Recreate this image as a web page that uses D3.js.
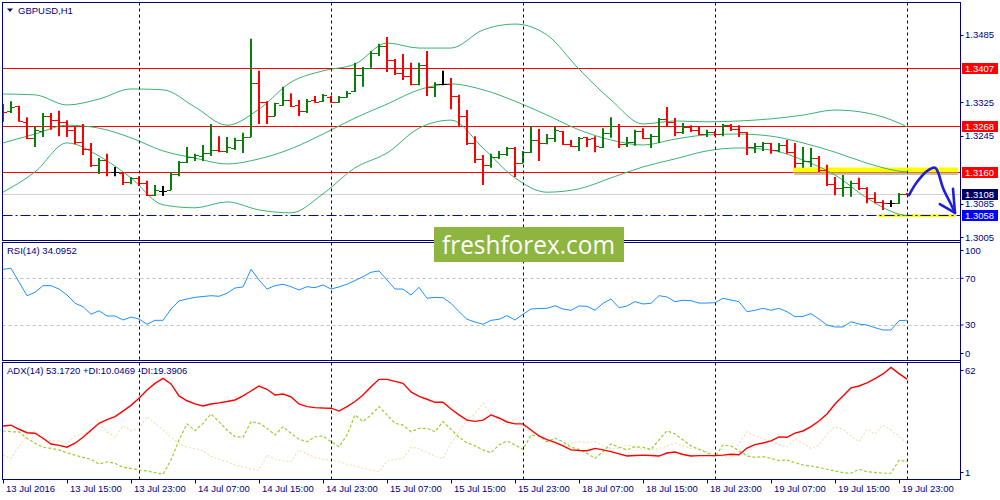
<!DOCTYPE html>
<meta charset="utf-8">
<style>
body { margin: 0; background: #fff; }
text { font-family: "Liberation Sans", Arial, sans-serif; font-size: 9.5px; fill: #000080; }
.box text { fill: #fff; }
</style>
<svg width="1000" height="500"></svg>
<script src="https://d3js.org/d3.v7.min.js"></script>
<script>

// hourly bars, 13 Jul 2016 07:00 .. 20 Jul 00:00
var open = [1.3319,1.3305,1.3317,1.3279,1.3241,1.3257,1.3293,1.3283,1.3279,1.3260,
  1.3231,1.3215,1.3177,1.3188,1.3160,1.3158,1.3136,1.3146,1.3134,1.3105,
  1.3115,1.3117,1.3155,1.3184,1.3196,1.3198,1.3205,1.3212,1.3210,1.3217,
  1.3236,1.3243,1.3371,1.3326,1.3293,1.3319,1.3331,1.3319,1.3305,1.3331,
  1.3328,1.3338,1.3326,1.3338,1.3352,1.3390,1.3407,1.3442,1.3459,1.3426,
  1.3395,1.3388,1.3369,1.3414,1.3362,1.3369,1.3369,1.3340,1.3293,1.3229,
  1.3191,1.3177,1.3196,1.3203,1.3217,1.3181,1.3207,1.3236,1.3229,1.3241,
  1.3257,1.3226,1.3222,1.3243,1.3241,1.3219,1.3253,1.3269,1.3226,1.3231,
  1.3257,1.3241,1.3245,1.3286,1.3279,1.3255,1.3267,1.3260,1.3250,1.3255,
  1.3250,1.3271,1.3262,1.3255,1.3219,1.3222,1.3229,1.3212,1.3224,1.3207,
  1.3181,1.3186,1.3193,1.3165,1.3131,1.3122,1.3124,1.3134,1.3122,1.3098,
  1.3089,1.3086,1.3086,1.3108];
var high = [1.3321,1.3328,1.3317,1.3290,1.3267,1.3300,1.3300,1.3305,1.3283,1.3267,
  1.3274,1.3229,1.3193,1.3203,1.3172,1.3160,1.3148,1.3150,1.3139,1.3129,
  1.3127,1.3160,1.3186,1.3219,1.3203,1.3224,1.3274,1.3245,1.3243,1.3241,
  1.3253,1.3476,1.3400,1.3328,1.3324,1.3362,1.3347,1.3331,1.3333,1.3340,
  1.3345,1.3340,1.3340,1.3352,1.3419,1.3409,1.3447,1.3464,1.3480,1.3428,
  1.3440,1.3419,1.3419,1.3447,1.3373,1.3400,1.3383,1.3343,1.3307,1.3245,
  1.3200,1.3203,1.3210,1.3219,1.3219,1.3210,1.3269,1.3262,1.3250,1.3267,
  1.3257,1.3236,1.3243,1.3243,1.3245,1.3264,1.3290,1.3274,1.3243,1.3260,
  1.3264,1.3250,1.3288,1.3314,1.3288,1.3276,1.3271,1.3267,1.3260,1.3257,
  1.3274,1.3274,1.3271,1.3255,1.3229,1.3231,1.3229,1.3229,1.3236,1.3229,
  1.3219,1.3217,1.3198,1.3177,1.3148,1.3153,1.3139,1.3146,1.3124,1.3112,
  1.3093,1.3093,1.3110,1.3110];
var low = [1.3279,1.3300,1.3279,1.3238,1.3219,1.3243,1.3260,1.3245,1.3243,1.3226,
  1.3200,1.3172,1.3155,1.3150,1.3150,1.3129,1.3131,1.3127,1.3103,1.3103,
  1.3103,1.3117,1.3150,1.3181,1.3186,1.3186,1.3198,1.3207,1.3205,1.3212,
  1.3205,1.3243,1.3274,1.3274,1.3293,1.3317,1.3314,1.3293,1.3300,1.3324,
  1.3326,1.3324,1.3324,1.3336,1.3350,1.3362,1.3407,1.3435,1.3397,1.3390,
  1.3378,1.3366,1.3366,1.3340,1.3338,1.3366,1.3309,1.3267,1.3224,1.3181,
  1.3129,1.3170,1.3191,1.3198,1.3148,1.3181,1.3205,1.3186,1.3226,1.3231,
  1.3224,1.3219,1.3210,1.3219,1.3207,1.3217,1.3241,1.3217,1.3219,1.3222,
  1.3238,1.3217,1.3229,1.3269,1.3245,1.3250,1.3255,1.3248,1.3243,1.3245,
  1.3245,1.3257,1.3243,1.3200,1.3205,1.3210,1.3203,1.3207,1.3203,1.3170,
  1.3170,1.3172,1.3160,1.3127,1.3105,1.3101,1.3101,1.3117,1.3086,1.3086,
  1.3070,1.3077,1.3084,1.3105];
var close = [1.3302,1.3314,1.3281,1.3241,1.3260,1.3293,1.3283,1.3279,1.3260,1.3231,
  1.3215,1.3177,1.3188,1.3160,1.3160,1.3136,1.3146,1.3134,1.3105,1.3117,
  1.3115,1.3155,1.3184,1.3196,1.3200,1.3205,1.3212,1.3210,1.3219,1.3236,
  1.3243,1.3371,1.3326,1.3293,1.3324,1.3331,1.3317,1.3305,1.3328,1.3326,
  1.3343,1.3326,1.3338,1.3347,1.3390,1.3407,1.3442,1.3459,1.3426,1.3395,
  1.3388,1.3369,1.3414,1.3362,1.3369,1.3369,1.3340,1.3293,1.3229,1.3191,
  1.3177,1.3196,1.3203,1.3217,1.3181,1.3207,1.3236,1.3229,1.3241,1.3260,
  1.3226,1.3222,1.3241,1.3238,1.3222,1.3253,1.3269,1.3226,1.3231,1.3257,
  1.3241,1.3245,1.3286,1.3279,1.3255,1.3267,1.3260,1.3250,1.3255,1.3250,
  1.3271,1.3262,1.3255,1.3219,1.3222,1.3229,1.3212,1.3224,1.3207,1.3181,
  1.3186,1.3193,1.3165,1.3131,1.3122,1.3124,1.3134,1.3122,1.3098,1.3089,
  1.3086,1.3086,1.3108,1.3107];

// Bollinger bands, read every 4th bar
var bbBars = [0,4,8,12,16,20,24,28,32,36,40,44,48,52,56,60,64,68,72,76,80,84,88,92,96,100,104,108,112,113];
var bbUpper = [1.3345,1.3343,1.3319,1.3333,1.3357,1.3355,1.3314,1.3271,1.3309,1.3373,1.3400,1.3416,1.3466,1.3454,1.3454,
  1.3497,1.3511,1.3485,1.3404,1.3331,1.3274,1.3281,1.3279,1.3281,1.3286,1.3295,1.3307,1.3300,1.3276,1.3267];
var bbMiddle = [1.3229,1.3250,1.3271,1.3264,1.3241,1.3210,1.3193,1.3179,1.3191,1.3215,1.3250,1.3288,1.3321,1.3355,1.3369,
  1.3355,1.3328,1.3295,1.3260,1.3236,1.3224,1.3238,1.3248,1.3250,1.3245,1.3229,1.3207,1.3181,1.3162,1.3160];
var bbLower = [1.3112,1.3160,1.3229,1.3198,1.3146,1.3082,1.3075,1.3089,1.3070,1.3063,1.3108,1.3170,1.3205,1.3264,1.3283,
  1.3217,1.3146,1.3112,1.3120,1.3146,1.3172,1.3191,1.3210,1.3217,1.3212,1.3188,1.3153,1.3098,1.3060,1.3056];

var rsi = [77.7,78.6,66.8,55.1,58.0,63.7,63.7,60.8,55.7,48.6,45.7,39.2,42.2,37.7,37.7,34.3,36.8,35.1,30.6,34.0,
  34.0,43.7,50.6,52.3,53.7,54.4,55.1,54.6,57.2,61.7,62.6,77.7,68.6,60.8,63.7,64.9,62.8,60.0,62.8,62.0,
  64.3,60.8,62.6,64.9,68.1,71.4,75.2,76.3,68.6,60.8,60.8,55.7,62.3,52.9,53.7,53.4,48.6,41.4,34.9,32.6,
  30.6,34.0,34.9,38.0,34.3,39.2,43.7,44.1,44.3,46.5,43.7,42.6,46.3,46.0,42.6,48.6,52.3,44.8,46.3,50.0,
  48.0,48.6,55.1,54.0,50.0,51.2,50.8,48.8,48.8,49.1,52.9,51.4,50.0,41.4,42.6,44.3,42.6,44.3,41.4,37.1,
  37.4,39.7,35.1,30.0,28.3,28.3,32.8,30.8,30.0,27.7,25.7,25.7,33.7,34.0952];

var adx = [28.7,29.1,27.0,25.2,24.9,22.3,19.3,18.6,17.6,19.7,22.8,26.5,30.1,32.0,33.6,36.5,39.5,43.2,47.5,51.0,
  53.6,50.7,44.4,41.9,40.3,39.2,40.2,40.8,41.5,42.3,44.5,47.0,49.6,47.9,44.9,45.4,43.9,40.2,38.8,38.3,
  38.1,38.0,36.5,38.8,41.5,44.9,49.2,53.1,53.1,52.0,51.0,46.5,44.2,42.7,41.1,41.1,37.6,34.5,31.8,31.1,
  31.8,34.5,32.9,30.8,29.8,29.8,26.6,23.5,21.6,20.1,18.3,16.2,15.9,15.8,17.0,16.2,15.3,14.1,13.0,13.3,
  13.5,13.3,13.0,14.6,15.1,13.8,13.0,13.2,13.2,13.2,13.5,13.9,13.7,17.2,19.0,19.8,20.9,23.0,22.8,25.0,
  26.1,28.4,31.3,35.0,40.2,44.4,48.6,49.6,51.2,53.5,55.9,59.3,56.1,53.172];
var plusDI = [26.1,25.7,25.6,22.3,19.7,17.6,17.0,16.2,14.7,13.5,12.3,11.3,8.8,10.0,9.2,7.1,6.6,5.7,5.2,4.3,
  3.5,10.9,21.4,29.8,26.2,30.1,35.0,31.0,26.6,23.1,22.8,31.0,30.1,27.5,24.0,28.3,24.9,21.8,20.5,23.1,
  23.5,20.5,17.9,24.0,34.5,31.0,34.5,38.8,34.5,30.1,29.2,25.7,27.5,27.5,25.7,31.0,27.0,22.8,20.0,18.3,
  16.2,14.7,18.8,20.9,18.8,16.5,24.0,23.5,20.5,22.3,20.5,17.6,16.5,14.4,11.8,15.3,19.3,17.6,16.2,17.9,
  17.6,16.5,21.4,26.2,24.5,21.4,18.3,16.5,14.7,12.7,18.8,18.3,15.8,13.0,12.3,12.7,11.8,10.6,10.9,9.5,
  8.3,7.8,7.1,6.1,5.2,4.3,4.0,6.1,4.8,4.5,4.0,4.0,10.9,10.0469];
var minusDI = [13.5,11.8,17.9,24.0,26.2,21.4,21.0,20.9,19.7,23.5,24.5,26.2,29.8,25.7,22.8,28.7,26.2,27.5,33.6,30.1,
  26.6,22.8,19.7,17.6,16.8,15.8,12.7,11.3,10.0,8.3,7.4,6.1,5.7,13.5,11.3,10.6,10.0,16.2,14.1,12.3,
  11.3,10.9,10.0,8.7,7.8,6.6,5.7,4.8,10.4,11.3,11.8,17.6,17.0,14.7,13.0,11.8,19.7,25.7,31.8,35.2,
  40.6,35.0,31.8,29.2,32.7,28.7,25.7,24.0,21.0,19.3,18.3,19.7,20.5,20.0,20.5,18.3,17.0,17.0,18.8,17.6,
  16.5,16.2,17.0,18.3,19.7,18.3,17.0,16.5,15.3,14.1,12.7,11.8,19.7,25.7,23.5,21.8,21.0,18.8,17.9,21.8,
  19.7,17.0,18.8,24.5,28.3,27.0,23.5,20.5,27.0,24.5,29.2,26.6,23.5,19.3906];

var tickBars = [0,8,16,24,32,40,48,56,64,72,80,88,96,104,112];
var tickLabels = ["13 Jul 2016","13 Jul 15:00","13 Jul 23:00","14 Jul 07:00","14 Jul 15:00","14 Jul 23:00",
  "15 Jul 07:00","15 Jul 15:00","15 Jul 23:00","18 Jul 07:00","18 Jul 15:00","18 Jul 23:00",
  "19 Jul 07:00","19 Jul 15:00","19 Jul 23:00"];
var dayBars = [17, 41, 65, 89, 113];

var priceTicks = [1.3485, 1.3325, 1.3245, 1.3085, 1.3005];
var redLevels = [1.3407, 1.3268, 1.3160];
var bid = 1.3108, support = 1.3058;
var rsiTicks = [100, 70, 30, 0], rsiLevels = [70, 30];
var adxTicks = [62, 1];

// hand-drawn forecast: [bar, price]
var arrowPath = [[113.25,1.3105],[114.25,1.3136],[115.5,1.3162],[116.5,1.3170],[116.9,1.3158],[117.5,1.3122],[118.4,1.3087],[119,1.3063]];
var arrowHead = [[117.1,1.3084],[119,1.3063],[118.75,1.3120]];

var svg = d3.select("svg");
var navy = "#000080";
var L = 2.5, R = 960.5;
var mainY = [2.5, 240.5], rsiY = [242.5, 360.5], adxY = [362.5, 479.5];

var x = d3.scaleLinear().domain([0, 119.625]).range([3, 960]);
var yP = d3.scaleLinear().domain([1.3005, 1.3485]).range([237.3, 35]);
var yR = d3.scaleLinear().domain([0, 100]).range([360, 243.3]);
var yA = d3.scaleLinear().domain([1, 62]).range([479, 362.3]);

svg.append("rect").attr("width", 1000).attr("height", 500).attr("fill", "#fff");

var defs = svg.append("defs");
[["cMain", mainY], ["cRsi", rsiY], ["cAdx", adxY]].forEach(function(c) {
  defs.append("clipPath").attr("id", c[0]).append("rect")
      .attr("x", L).attr("y", c[1][0]).attr("width", R - L).attr("height", c[1][1] - c[1][0]);
});

var gMain = svg.append("g").attr("clip-path", "url(#cMain)");
var gRsi = svg.append("g").attr("clip-path", "url(#cRsi)");
var gAdx = svg.append("g").attr("clip-path", "url(#cAdx)");

// day separators
svg.append("g").selectAll("line").data(dayBars).enter().append("line")
    .attr("x1", function(d) { return Math.round(x(d)) + 0.5; })
    .attr("x2", function(d) { return Math.round(x(d)) + 0.5; })
    .attr("y1", mainY[0]).attr("y2", adxY[1])
    .attr("stroke", navy).attr("stroke-dasharray", "3,3");

// main panel levels
gMain.append("line").attr("x1", L).attr("x2", R)
    .attr("y1", Math.round(yP(bid)) + 0.5).attr("y2", Math.round(yP(bid)) + 0.5)
    .attr("stroke", "#d0d0d0");

gMain.selectAll(".lvl").data(redLevels).enter().append("line")
    .attr("x1", L).attr("x2", R)
    .attr("y1", function(d) { return Math.round(yP(d)) + 0.5; })
    .attr("y2", function(d) { return Math.round(yP(d)) + 0.5; })
    .attr("stroke", "#ff0000").attr("stroke-width", 1.2);

// yellow highlights
gMain.append("rect").attr("x", x(98.75)).attr("width", x(119.4) - x(98.75))
    .attr("y", yP(support) - 42 + 0).attr("height", 0).attr("fill", "none");
gMain.append("rect").attr("x", x(98.9)).attr("width", x(119.4) - x(98.9))
    .attr("y", yP(1.3160) + 0.5).attr("height", 2.5).attr("fill", "#000").attr("opacity", 0.25);
gMain.append("rect").attr("x", x(98.75)).attr("width", x(119.4) - x(98.75))
    .attr("y", yP(1.3160) - 4.5).attr("height", 5).attr("fill", "#ffff00");
gMain.append("rect").attr("x", x(109.4)).attr("width", x(119.1) - x(109.4))
    .attr("y", yP(support) - 1).attr("height", 3).attr("fill", "#ffff00");

gMain.append("line").attr("x1", L).attr("x2", R)
    .attr("y1", Math.round(yP(support)) + 0.5).attr("y2", Math.round(yP(support)) + 0.5)
    .attr("stroke", "#0000dd").attr("stroke-width", 1.2).attr("stroke-dasharray", "10,3,2,3");

// bollinger bands
var bbLine = d3.line()
    .x(function(d) { return x(d[0]); })
    .y(function(d) { return yP(d[1]); })
    .curve(d3.curveMonotoneX);
[bbUpper, bbMiddle, bbLower].forEach(function(s) {
  gMain.append("path")
      .datum(bbBars.map(function(b, i) { return [b, s[i]]; }))
      .attr("d", bbLine).attr("fill", "none")
      .attr("stroke", "#3cb371").attr("stroke-width", 1);
});

// OHLC bars
var bars = open.map(function(o, i) { return { i: i, o: o, h: high[i], l: low[i], c: close[i] }; });
function barColor(d) { return d.c > d.o ? "#0a7d0a" : d.c < d.o ? "#ff0000" : "#000000"; }
var bar = gMain.selectAll(".bar").data(bars).enter().append("g")
    .attr("stroke", barColor);
bar.append("line")
    .attr("x1", function(d) { return Math.round(x(d.i)); })
    .attr("x2", function(d) { return Math.round(x(d.i)); })
    .attr("y1", function(d) { return yP(d.h); })
    .attr("y2", function(d) { return yP(d.l); })
    .attr("stroke-width", 2);
bar.append("line")
    .attr("x1", function(d) { return Math.round(x(d.i)) - 4; })
    .attr("x2", function(d) { return Math.round(x(d.i)); })
    .attr("y1", function(d) { return Math.round(yP(d.o)) + 0.5; })
    .attr("y2", function(d) { return Math.round(yP(d.o)) + 0.5; });
bar.append("line")
    .attr("x1", function(d) { return Math.round(x(d.i)); })
    .attr("x2", function(d) { return Math.round(x(d.i)) + 4; })
    .attr("y1", function(d) { return Math.round(yP(d.c)) + 0.5; })
    .attr("y2", function(d) { return Math.round(yP(d.c)) + 0.5; });

// forecast arrow
var pl = d3.line().x(function(d) { return x(d[0]); }).y(function(d) { return yP(d[1]); });
svg.append("path").datum(arrowPath)
    .attr("d", pl.curve(d3.curveCatmullRom)).attr("fill", "none")
    .attr("stroke", "#1f1fd8").attr("stroke-width", 2.6).attr("stroke-linecap", "round");
svg.append("path").datum(arrowHead)
    .attr("d", d3.line().x(function(d) { return x(d[0]); }).y(function(d) { return yP(d[1]); }))
    .attr("fill", "none").attr("stroke", "#1f1fd8").attr("stroke-width", 2.6)
    .attr("stroke-linecap", "round").attr("stroke-linejoin", "round");

// RSI
gRsi.selectAll(".lvl").data(rsiLevels).enter().append("line")
    .attr("x1", L).attr("x2", R)
    .attr("y1", function(d) { return Math.round(yR(d)) + 0.5; })
    .attr("y2", function(d) { return Math.round(yR(d)) + 0.5; })
    .attr("stroke", "#c0c0c0").attr("stroke-dasharray", "3,3");
gRsi.append("path").datum(rsi)
    .attr("d", d3.line().x(function(d, i) { return x(i); }).y(function(d) { return yR(d); }))
    .attr("fill", "none").attr("stroke", "#1e90ff").attr("stroke-width", 1);

// ADX
function adxLine(s, color, dash, w) {
  gAdx.append("path").datum(s)
      .attr("d", d3.line().x(function(d, i) { return x(i); }).y(function(d) { return yA(d); }))
      .attr("fill", "none").attr("stroke", color).attr("stroke-width", w)
      .attr("stroke-dasharray", dash);
}
adxLine(minusDI, "#f5deb3", "2,2", 1.2);
adxLine(plusDI, "#9acd32", "3,2", 1.2);
adxLine(adx, "#ff0000", null, 1.4);

// panel frames
[mainY, rsiY, adxY].forEach(function(p) {
  svg.append("rect").attr("x", L).attr("y", p[0]).attr("width", R - L).attr("height", p[1] - p[0])
      .attr("fill", "none").attr("stroke", navy);
});

// right axis
var axisR = svg.append("g");
axisR.selectAll(".pt").data(priceTicks).enter().append("text")
    .attr("x", 965).attr("y", function(d) { return yP(d); }).attr("dy", "0.35em")
    .text(function(d) { return d.toFixed(4); });
axisR.selectAll(".ptk").data(priceTicks).enter().append("line")
    .attr("x1", R).attr("x2", R + 3)
    .attr("y1", function(d) { return Math.round(yP(d)) + 0.5; })
    .attr("y2", function(d) { return Math.round(yP(d)) + 0.5; })
    .attr("stroke", navy);

var marks = redLevels.map(function(v) { return { v: v, fill: "#ff0000" }; })
    .concat([{ v: bid, fill: "#000066" }, { v: support, fill: "#0000ff" }]);
var box = axisR.selectAll(".box").data(marks).enter().append("g").attr("class", "box");
box.append("rect")
    .attr("x", 962).attr("width", 36)
    .attr("y", function(d) { return Math.round(yP(d.v)) - 5; }).attr("height", 11)
    .attr("fill", function(d) { return d.fill; });
box.append("text")
    .attr("x", 965).attr("y", function(d) { return Math.round(yP(d.v)) + 0.5; }).attr("dy", "0.35em")
    .text(function(d) { return d.v.toFixed(4); });

function clampText(g, ticks, scale, top, bottom) {
  g.selectAll(null).data(ticks).enter().append("text")
      .attr("x", 965)
      .attr("y", function(d) { return Math.max(top + 8, Math.min(bottom - 7, scale(d))); })
      .attr("dy", "0.35em")
      .text(function(d) { return d; });
  g.selectAll(null).data(ticks).enter().append("line")
      .attr("x1", R).attr("x2", R + 3)
      .attr("y1", function(d) { return Math.max(top + 8, Math.min(bottom - 7, scale(d))); })
      .attr("y2", function(d) { return Math.max(top + 8, Math.min(bottom - 7, scale(d))); })
      .attr("stroke", navy);
}
clampText(axisR, rsiTicks, yR, rsiY[0], rsiY[1]);
clampText(axisR, adxTicks, yA, adxY[0], adxY[1]);

axisR.append("line").attr("x1", R).attr("x2", R).attr("y1", 2).attr("y2", 480).attr("stroke", navy);

// time axis
var axisB = svg.append("g");
axisB.selectAll("line").data(tickBars).enter().append("line")
    .attr("x1", function(d) { return Math.round(x(d)) + 0.5; })
    .attr("x2", function(d) { return Math.round(x(d)) + 0.5; })
    .attr("y1", adxY[1]).attr("y2", adxY[1] + 4)
    .attr("stroke", navy);
axisB.selectAll("text").data(tickBars).enter().append("text")
    .attr("x", function(d) { return Math.round(x(d)) + 3; })
    .attr("y", 492)
    .text(function(d, i) { return tickLabels[i]; });

// panel captions
svg.append("path").attr("d", "M7,8.5h6l-3,3.5z").attr("fill", navy);
svg.append("text").attr("x", 18).attr("y", 14).text("GBPUSD,H1");
svg.append("text").attr("x", 7).attr("y", 254).text("RSI(14) 34.0952");
svg.append("text").attr("x", 7).attr("y", 374)
    .text("ADX(14) 53.1720 +DI:10.0469 -DI:19.3906");

// watermark
svg.append("rect").attr("x", 434).attr("y", 227).attr("width", 190).attr("height", 35).attr("fill", "#8db53f");
svg.append("text").attr("x", 442).attr("y", 253.5)
    .attr("textLength", 173).attr("lengthAdjust", "spacingAndGlyphs")
    .style("font-family", "'Open Sans', sans-serif").style("font-size", "26px").style("fill", "#fff")
    .text("freshforex.com");

</script>
